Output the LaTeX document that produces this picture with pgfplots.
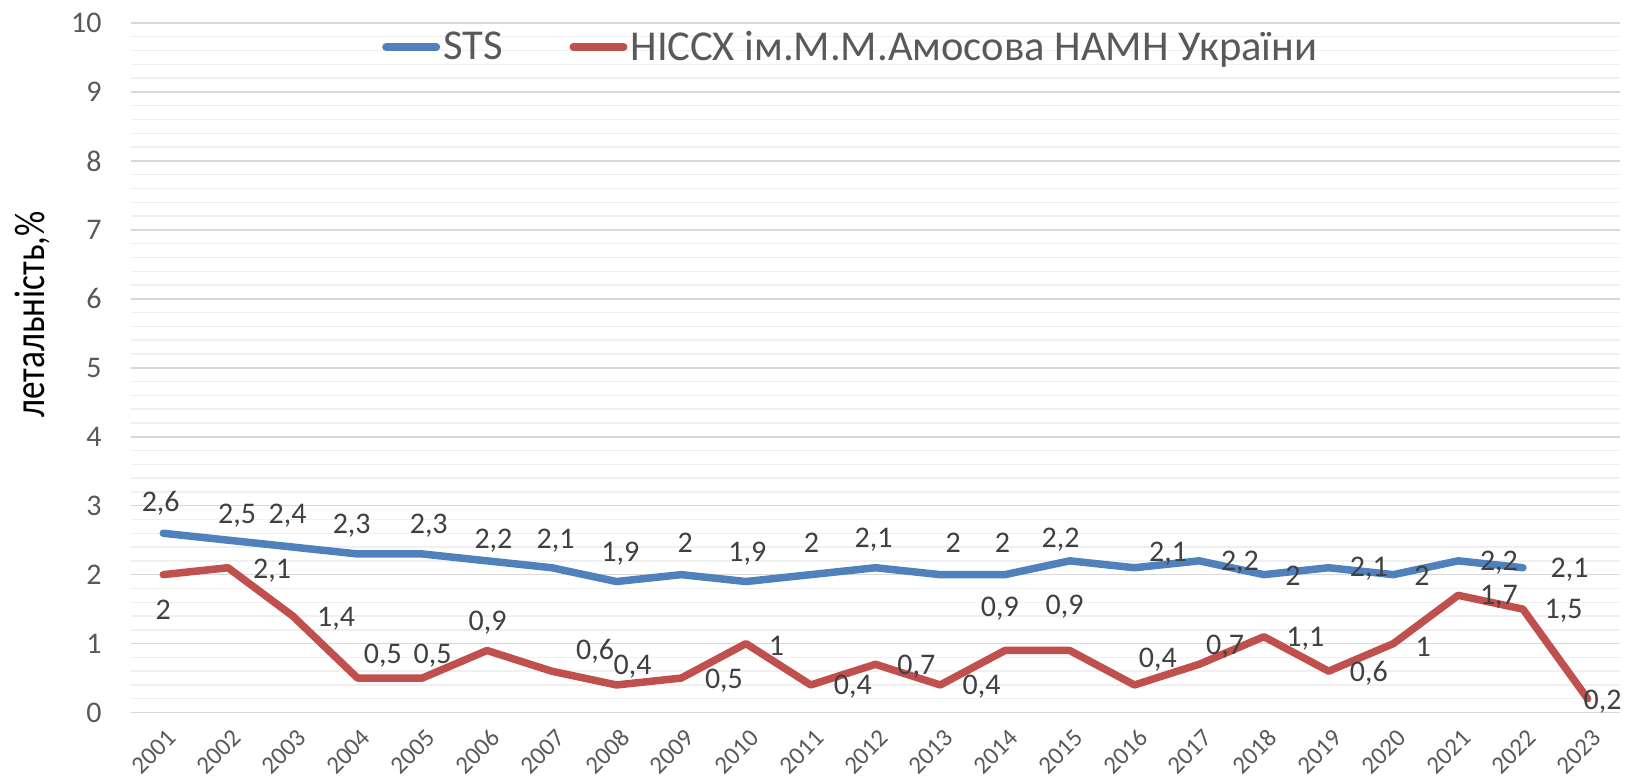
\documentclass[border=0pt]{standalone}
\usepackage{fontspec}
\setmainfont{Carlito}
\newfontfamily\ylfont[FakeStretch=0.82]{Carlito}
\usepackage{pgfplots}
\pgfplotsset{compat=1.18}
\definecolor{stsblue}{HTML}{4F81BD}
\definecolor{nred}{HTML}{C0504D}
\definecolor{majgrid}{HTML}{D9D9D9}
\definecolor{mingrid}{HTML}{F0F0F0}
\definecolor{ticktext}{HTML}{595959}
\definecolor{lbltext}{HTML}{404040}
\begin{document}
\begin{tikzpicture}[lbl/.style={font=\fontsize{15}{17}\selectfont, text=lbltext, inner sep=0pt, anchor=center}]
\begin{axis}[
  scale only axis,
  width=745pt, height=345pt,
  xmin=-0.5, xmax=22.5,
  ymin=0, ymax=10,
  xtick={0,...,22},
  xticklabels={2001,2002,2003,2004,2005,2006,2007,2008,2009,2010,2011,2012,2013,2014,2015,2016,2017,2018,2019,2020,2021,2022,2023},
  ytick={0,...,10},
  minor y tick num=4,
  ymajorgrids, yminorgrids,
  major grid style={draw=majgrid, line width=0.8pt},
  minor grid style={draw=mingrid, line width=0.7pt},
  axis line style={draw=none},
  major tick length=0pt, minor tick length=0pt,
  /pgf/number format/assume math mode=true,
  yticklabel style={font=\fontsize{15}{17}\selectfont, text=ticktext, inner sep=0pt, anchor=east, xshift=-14.5pt},
  xticklabel style={font=\fontsize{12.5}{14}\selectfont, text=ticktext, inner sep=0pt, xshift=4.5pt, yshift=-10.5pt, rotate=45, anchor=east},
  ylabel={\ylfont\fontsize{21.5}{24}\selectfont летальність,\%},
  ylabel style={at={(axis description cs:-0.066,0.577)}, anchor=center, text=black, inner sep=0pt},
  legend columns=2,
  legend style={at={(axis description cs:0.1685,0.9652)}, anchor=west, draw=none, fill=none, inner sep=0pt,
    font=\fontsize{21.3}{26}\selectfont, text=ticktext,
    /tikz/every even column/.append style={column sep=32pt},
    nodes={inner xsep=1.5pt}},
  legend image code/.code={\draw[#1, line width=4pt, line cap=round] (2pt,0pt) -- (27pt,0pt);},
]
\addplot[stsblue, line width=3.75pt, line cap=round, line join=round] coordinates {
 (0,2.6) (1,2.5) (2,2.4) (3,2.3) (4,2.3) (5,2.2) (6,2.1) (7,1.9) (8,2.0) (9,1.9) (10,2.0)
 (11,2.1) (12,2.0) (13,2.0) (14,2.2) (15,2.1) (16,2.2) (17,2.0) (18,2.1) (19,2.0) (20,2.2) (21,2.1)};
\addlegendentry{STS}
\addplot[nred, line width=3.75pt, line cap=round, line join=round] coordinates {
 (0,2.0) (1,2.1) (2,1.4) (3,0.5) (4,0.5) (5,0.9) (6,0.6) (7,0.4) (8,0.5) (9,1.0) (10,0.4)
 (11,0.7) (12,0.4) (13,0.9) (14,0.9) (15,0.4) (16,0.7) (17,1.1) (18,0.6) (19,1.0) (20,1.7) (21,1.5) (22,0.2)};
\addlegendentry{НІССХ ім.М.М.Амосова НАМН України}
% blue data labels
\node[lbl] at (axis cs:-0.04,3.04) {2,6};
\node[lbl] at (axis cs:1.14,2.86) {2,5};
\node[lbl] at (axis cs:1.92,2.86) {2,4};
\node[lbl] at (axis cs:2.91,2.71) {2,3};
\node[lbl] at (axis cs:4.10,2.71) {2,3};
\node[lbl] at (axis cs:5.10,2.49) {2,2};
\node[lbl] at (axis cs:6.06,2.49) {2,1};
\node[lbl] at (axis cs:7.06,2.30) {1,9};
\node[lbl] at (axis cs:8.06,2.46) {2};
\node[lbl] at (axis cs:9.02,2.30) {1,9};
\node[lbl] at (axis cs:10.01,2.46) {2};
\node[lbl] at (axis cs:10.97,2.50) {2,1};
\node[lbl] at (axis cs:12.20,2.46) {2};
\node[lbl] at (axis cs:12.96,2.46) {2};
\node[lbl] at (axis cs:13.86,2.50) {2,2};
\node[lbl] at (axis cs:15.52,2.31) {2,1};
\node[lbl] at (axis cs:16.63,2.17) {2,2};
\node[lbl] at (axis cs:17.45,1.99) {2};
\node[lbl] at (axis cs:18.62,2.08) {2,1};
\node[lbl] at (axis cs:19.44,1.99) {2};
\node[lbl] at (axis cs:20.63,2.17) {2,2};
\node[lbl] at (axis cs:21.72,2.07) {2,1};
% red data labels
\node[lbl] at (axis cs:0.00,1.49) {2};
\node[lbl] at (axis cs:1.68,2.06) {2,1};
\node[lbl] at (axis cs:2.67,1.36) {1,4};
\node[lbl] at (axis cs:3.39,0.83) {0,5};
\node[lbl] at (axis cs:4.16,0.83) {0,5};
\node[lbl] at (axis cs:5.01,1.30) {0,9};
\node[lbl] at (axis cs:6.67,0.89) {0,6};
\node[lbl] at (axis cs:7.25,0.67) {0,4};
\node[lbl] at (axis cs:8.66,0.46) {0,5};
\node[lbl] at (axis cs:9.47,0.97) {1};
\node[lbl] at (axis cs:10.65,0.37) {0,4};
\node[lbl] at (axis cs:11.63,0.67) {0,7};
\node[lbl] at (axis cs:12.64,0.37) {0,4};
\node[lbl] at (axis cs:12.92,1.50) {0,9};
\node[lbl] at (axis cs:13.92,1.53) {0,9};
\node[lbl] at (axis cs:15.36,0.77) {0,4};
\node[lbl] at (axis cs:16.40,0.96) {0,7};
\node[lbl] at (axis cs:17.64,1.07) {1,1};
\node[lbl] at (axis cs:18.62,0.57) {0,6};
\node[lbl] at (axis cs:19.46,0.96) {1};
\node[lbl] at (axis cs:20.63,1.68) {1,7};
\node[lbl] at (axis cs:21.63,1.47) {1,5};
\node[lbl] at (axis cs:22.23,0.16) {0,2};
\end{axis}
\pgfresetboundingbox
\path[use as bounding box] (-65.5pt,-34pt) rectangle (749.5pt,356.5pt);
\end{tikzpicture}
\end{document}
